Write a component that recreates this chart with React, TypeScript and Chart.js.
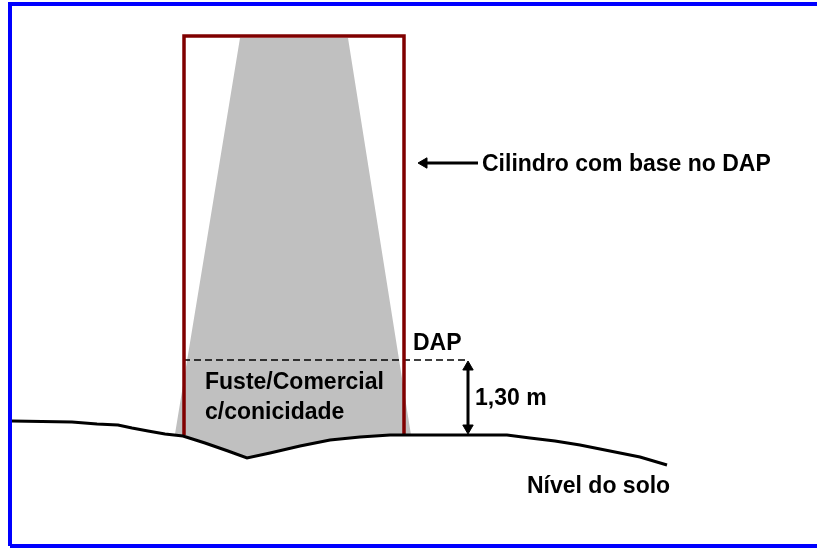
import React, { useEffect, useRef } from "react";
import { Chart, registerables } from "chart.js";

Chart.register(...registerables);

// Diagram geometry (in picture units)
const frameX = [10, 10, 830];
const frameY = [546, 4, 4];
const frameBottomX = [10, 830];
const frameBottomY = [546, 546];

const groundX = [12, 72, 97, 118, 132, 148, 165, 183, 205, 228, 247, 270, 300, 330, 360, 390, 507, 530, 555, 580, 610, 640, 667];
const groundY = [421, 422, 424, 425, 428, 431, 434, 436, 443, 451, 458, 453, 446, 440, 437, 435, 435, 438, 441, 445, 451, 457, 465];

const stemX = [240, 348, 411, 390, 360, 330, 300, 270, 247, 228, 205, 183, 175];
const stemY = [38, 38, 435, 435, 437, 440, 446, 453, 458, 451, 443, 436, 434];

const cylX = [184, 184, 404, 404];
const cylY = [435, 36, 36, 435];

const dapLineX = [183, 465];
const dapLineY = [360, 360];

const heightArrowX = [468, 468];
const heightArrowY = [367, 428];

const cylArrowX = [424, 478];
const cylArrowY = [163, 163];

const labels = ["Cilindro com base no DAP", "DAP", "Fuste/Comercial", "c/conicidade", "1,30 m", "Nível do solo"];
const labelX = [482, 413, 205, 205, 475, 527];
const labelY = [171, 350, 389, 419, 405, 493];

const pts = (xs: number[], ys: number[]) => xs.map((x, i) => ({ x, y: ys[i] }));

const textPlugin = {
  id: "diagramText",
  afterDatasetsDraw(chart: any) {
    const { ctx, scales } = chart;
    ctx.save();
    ctx.fillStyle = "#000";
    ctx.font = "bold 23px 'Liberation Sans', Arial, sans-serif";
    ctx.textBaseline = "alphabetic";
    ctx.textAlign = "left";
    labels.forEach((t, i) => {
      ctx.fillText(t, scales.x.getPixelForValue(labelX[i]), scales.y.getPixelForValue(labelY[i]));
    });
    ctx.restore();
  },
};

export default function App() {
  const ref = useRef<HTMLCanvasElement>(null);
  useEffect(() => {
    if (!ref.current) return;
    const chart = new Chart(ref.current, {
      type: "line",
      data: {
        datasets: [
          {
            data: pts(stemX, stemY),
            borderWidth: 0,
            borderColor: "rgba(0,0,0,0)",
            backgroundColor: "#c0c0c0",
            fill: "shape",
            pointRadius: 0,
            tension: 0,
            order: 10,
          } as any,
          {
            data: pts(frameX, frameY),
            borderColor: "#0000ff",
            borderWidth: 4,
            pointRadius: 0,
            fill: false,
            order: 1,
          },
          {
            data: pts(frameBottomX, frameBottomY),
            borderColor: "#0000ff",
            borderWidth: 4,
            pointRadius: 0,
            fill: false,
            order: 1,
          },
          {
            data: pts(dapLineX, dapLineY),
            borderColor: "#000",
            borderWidth: 1.5,
            borderDash: [7, 4],
            pointRadius: 0,
            fill: false,
            order: 4,
          },
          {
            data: pts(cylX, cylY),
            borderColor: "#800000",
            borderWidth: 3.5,
            borderJoinStyle: "miter",
            pointRadius: 0,
            fill: false,
            order: 3,
          },
          {
            data: pts(groundX, groundY),
            borderColor: "#000",
            borderWidth: 3,
            pointRadius: 0,
            fill: false,
            order: 2,
          },
          {
            data: pts(heightArrowX, heightArrowY),
            borderColor: "#000",
            backgroundColor: "#000",
            borderWidth: 3,
            pointStyle: "triangle",
            pointRadius: 6,
            pointBorderWidth: 1,
            pointRotation: [0, 180],
            fill: false,
            order: 2,
          } as any,
          {
            data: pts(cylArrowX, cylArrowY),
            borderColor: "#000",
            backgroundColor: "#000",
            borderWidth: 3,
            pointStyle: "triangle",
            pointRadius: [6, 0],
            pointBorderWidth: 1,
            pointRotation: [270, 0],
            fill: false,
            order: 2,
          } as any,
        ],
      },
      options: {
        animation: false,
        responsive: true,
        maintainAspectRatio: false,
        layout: { padding: 0, autoPadding: false },
        plugins: { legend: { display: false }, tooltip: { enabled: false }, title: { display: false } },
        events: [],
        scales: {
          x: { type: "linear", min: 0, max: 817, display: false },
          y: { type: "linear", min: 0, max: 548, reverse: true, display: false },
        },
      },
      plugins: [textPlugin],
    });
    return () => chart.destroy();
  }, []);
  return (
    <div style={{ position: "absolute", left: 0, top: 0, width: 817, height: 548, background: "#fff" }}>
      <canvas ref={ref} />
    </div>
  );
}
